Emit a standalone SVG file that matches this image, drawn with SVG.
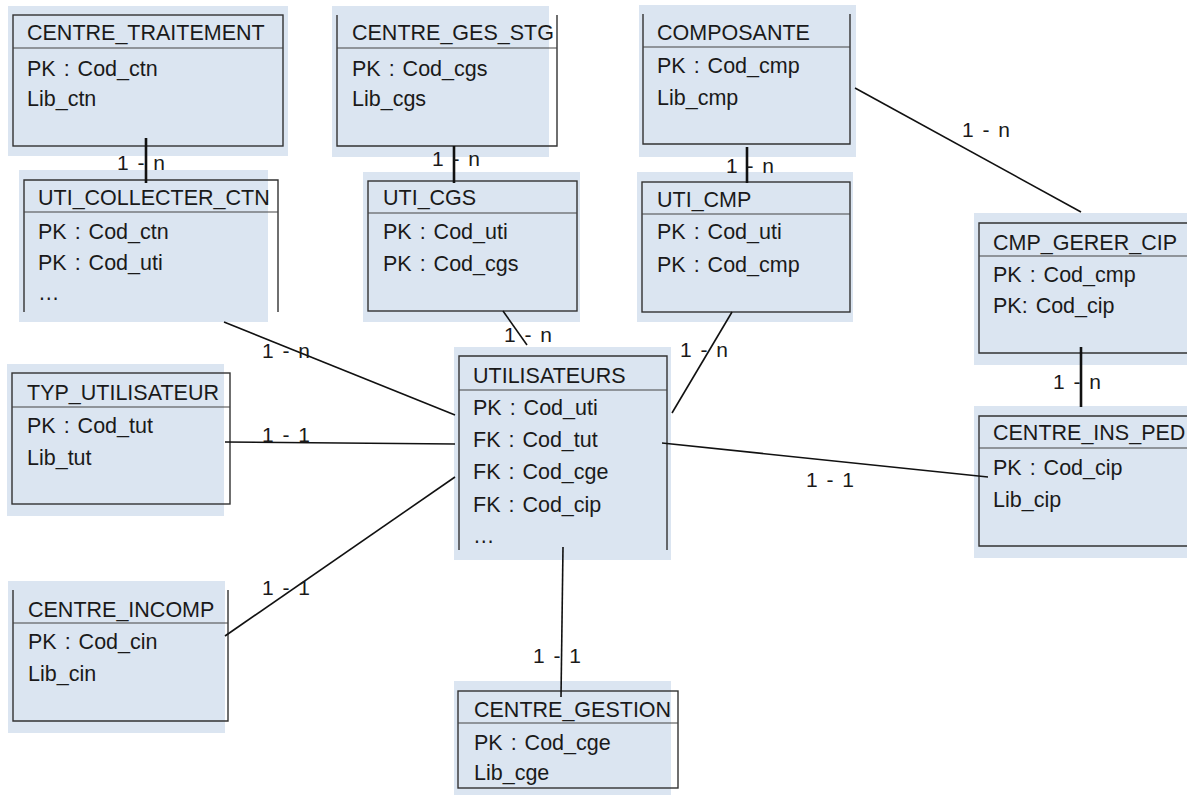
<svg xmlns="http://www.w3.org/2000/svg" width="1187" height="798" viewBox="0 0 1187 798">
<style>
.bg{fill:#dbe5f1}
.bd{fill:none;stroke:#333;stroke-width:1.4}
.hd{stroke:#444;stroke-width:1.2}
text{font-family:"Liberation Sans",Arial,sans-serif;font-size:21.5px;word-spacing:2px;fill:#1a1a1a}
.lbl{font-size:21px;word-spacing:3px}
.c{stroke:#111;stroke-width:1.6;fill:none}
.ct{stroke:#111;stroke-width:2.6;fill:none}
</style>
<rect width="1187" height="798" fill="#fff"/>
<g id="centre_traitement">
<rect class="bg" x="8" y="6" width="280" height="150"/>
<rect class="bd" x="13" y="15" width="270" height="131"/>
<line class="hd" x1="13" y1="48" x2="283" y2="48"/>
<text x="27" y="40">CENTRE_TRAITEMENT</text>
<text x="27" y="76">PK : Cod_ctn</text>
<text x="27" y="106">Lib_ctn</text>
</g>
<g id="uti_collecter_ctn">
<rect class="bg" x="19" y="170" width="249" height="152"/>
<path class="bd" d="M24 312V180H278V312"/>
<line class="hd" x1="24" y1="212" x2="278" y2="212"/>
<text x="38" y="205">UTI_COLLECTER_CTN</text>
<text x="38" y="239">PK : Cod_ctn</text>
<text x="38" y="270">PK : Cod_uti</text>
<text x="38" y="300">…</text>
</g>
<g id="centre_ges_stg">
<rect class="bg" x="332" y="6" width="217" height="151"/>
<path class="bd" d="M337 15V146H557V15"/>
<line class="hd" x1="337" y1="48" x2="557" y2="48"/>
<text x="352" y="40">CENTRE_GES_STG</text>
<text x="352" y="76">PK : Cod_cgs</text>
<text x="352" y="106">Lib_cgs</text>
</g>
<g id="uti_cgs">
<rect class="bg" x="363" y="172" width="217" height="150"/>
<rect class="bd" x="368" y="181" width="209" height="130"/>
<line class="hd" x1="368" y1="213" x2="577" y2="213"/>
<text x="383" y="205">UTI_CGS</text>
<text x="383" y="239">PK : Cod_uti</text>
<text x="383" y="271">PK : Cod_cgs</text>
</g>
<g id="composante">
<rect class="bg" x="639" y="5" width="217" height="152"/>
<path class="bd" d="M643 14V144H850V14"/>
<line class="hd" x1="643" y1="47" x2="850" y2="47"/>
<text x="657" y="40">COMPOSANTE</text>
<text x="657" y="73">PK : Cod_cmp</text>
<text x="657" y="105">Lib_cmp</text>
</g>
<g id="uti_cmp">
<rect class="bg" x="637" y="172" width="216" height="150"/>
<rect class="bd" x="642" y="182" width="208" height="130"/>
<line class="hd" x1="642" y1="214" x2="850" y2="214"/>
<text x="657" y="207">UTI_CMP</text>
<text x="657" y="239">PK : Cod_uti</text>
<text x="657" y="272">PK : Cod_cmp</text>
</g>
<g id="cmp_gerer_cip">
<rect class="bg" x="974" y="213" width="213" height="152"/>
<path class="bd" d="M1190 223H979V353H1190"/>
<line class="hd" x1="979" y1="256" x2="1187" y2="256"/>
<text x="993" y="250">CMP_GERER_CIP</text>
<text x="993" y="282">PK : Cod_cmp</text>
<text x="993" y="313">PK: Cod_cip</text>
</g>
<g id="centre_ins_ped">
<rect class="bg" x="974" y="406" width="213" height="152"/>
<path class="bd" d="M1190 416H979V546H1190"/>
<line class="hd" x1="979" y1="448" x2="1187" y2="448"/>
<text x="993" y="440">CENTRE_INS_PED</text>
<text x="993" y="475">PK : Cod_cip</text>
<text x="993" y="507">Lib_cip</text>
</g>
<g id="typ_utilisateur">
<rect class="bg" x="7" y="364" width="217" height="152"/>
<rect class="bd" x="12" y="373" width="218" height="131"/>
<line class="hd" x1="12" y1="407" x2="230" y2="407"/>
<text x="27" y="400">TYP_UTILISATEUR</text>
<text x="27" y="433">PK : Cod_tut</text>
<text x="27" y="465">Lib_tut</text>
</g>
<g id="centre_incomp">
<rect class="bg" x="8" y="581" width="217" height="152"/>
<path class="bd" d="M13 590V721H228V590"/>
<line class="hd" x1="13" y1="623" x2="228" y2="623"/>
<text x="28" y="617">CENTRE_INCOMP</text>
<text x="28" y="649">PK : Cod_cin</text>
<text x="28" y="681">Lib_cin</text>
</g>
<g id="utilisateurs">
<rect class="bg" x="454" y="347" width="217" height="213"/>
<path class="bd" d="M459 550V356H667V550"/>
<line class="hd" x1="459" y1="390" x2="667" y2="390"/>
<text x="473" y="383">UTILISATEURS</text>
<text x="473" y="415">PK : Cod_uti</text>
<text x="473" y="447">FK : Cod_tut</text>
<text x="473" y="479">FK : Cod_cge</text>
<text x="473" y="512">FK : Cod_cip</text>
<text x="473" y="543">…</text>
</g>
<g id="centre_gestion">
<rect class="bg" x="454" y="681" width="217" height="114"/>
<rect class="bd" x="458" y="691" width="220" height="97"/>
<line class="hd" x1="458" y1="723" x2="678" y2="723"/>
<text x="474" y="717">CENTRE_GESTION</text>
<text x="474" y="750">PK : Cod_cge</text>
<text x="474" y="780">Lib_cge</text>
</g>
<g id="connectors">
<line class="ct" x1="146" y1="138" x2="146" y2="183"/>
<line class="ct" x1="454" y1="146" x2="454" y2="183"/>
<line class="ct" x1="747" y1="147" x2="747" y2="183"/>
<line class="ct" x1="1081" y1="347" x2="1081" y2="407"/>
<line class="c" x1="855" y1="88" x2="1081" y2="212"/>
<line class="c" x1="224" y1="322" x2="455" y2="415"/>
<line class="c" x1="225" y1="442" x2="455" y2="444"/>
<line class="c" x1="225" y1="636" x2="455" y2="477"/>
<line class="c" x1="503" y1="311" x2="527" y2="345"/>
<line class="c" x1="732" y1="312" x2="672" y2="413"/>
<line class="c" x1="662" y1="443" x2="988" y2="477"/>
<line class="c" x1="563" y1="547" x2="561" y2="697"/>
<text class="lbl" x="117" y="170">1 - n</text>
<text class="lbl" x="432" y="166">1 - n</text>
<text class="lbl" x="726" y="173">1 - n</text>
<text class="lbl" x="962" y="137">1 - n</text>
<text class="lbl" x="1053" y="389">1 - n</text>
<text class="lbl" x="504" y="342">1 - n</text>
<text class="lbl" x="680" y="357">1 - n</text>
<text class="lbl" x="262" y="358">1 - n</text>
<text class="lbl" x="262" y="442">1 - 1</text>
<text class="lbl" x="262" y="595">1 - 1</text>
<text class="lbl" x="806" y="487">1 - 1</text>
<text class="lbl" x="533" y="663">1 - 1</text>
</g>
</svg>
